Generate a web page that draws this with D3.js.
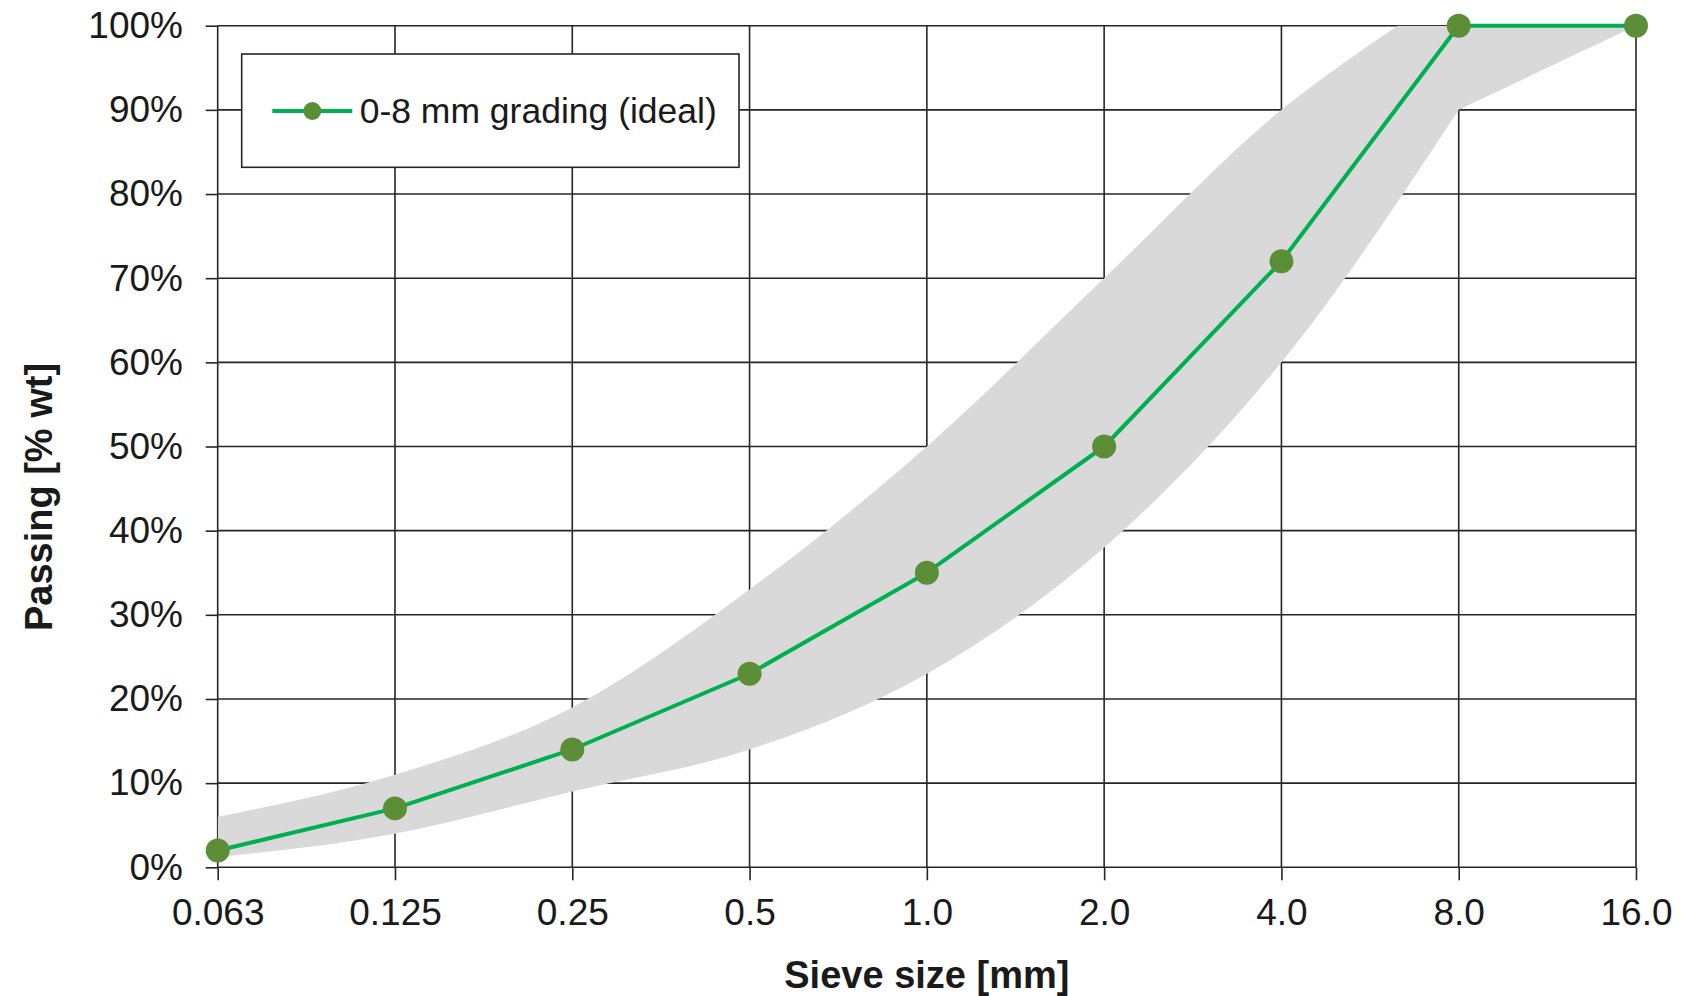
<!DOCTYPE html>
<html>
<head>
<meta charset="utf-8">
<script src="https://cdn.jsdelivr.net/npm/d3@7"></script>
<style>
  html, body { margin: 0; padding: 0; background: #fff; }
  svg { display: block; }
  text { font-family: "Liberation Sans", Arial, sans-serif; fill: #1a1a1a; }
</style>
</head>
<body>
<svg id="chart" width="1681" height="996"></svg>
<script>
// ---- data ----
const sieveLabels = ["0.063", "0.125", "0.25", "0.5", "1.0", "2.0", "4.0", "8.0", "16.0"];
const sieveSizes = [0.063, 0.125, 0.25, 0.5, 1, 2, 4, 8, 16];
const passingIdeal = [2, 7, 14, 23, 35, 50, 72, 100, 100];
const bandUpperSizes = [0.063, 0.125, 0.25, 0.5, 1, 2, 4, 6.3, 16];
const bandUpper = [6, 11, 19, 33, 50, 70, 90, 100, 100];
const bandLowerSizes = [0.063, 0.125, 0.25, 0.5, 1, 2, 4, 8, 16];
const bandLower = [1.2, 4, 9, 14, 23, 38, 60, 90, 100];
const yTicks = [0, 10, 20, 30, 40, 50, 60, 70, 80, 90, 100];
const seriesName = "0-8 mm grading (ideal)";
const xTitle = "Sieve size [mm]";
const yTitle = "Passing [% wt]";

// ---- layout ----
const L = 217.7, R = 1636, T = 25.7, B = 867.3;
const svg = d3.select("#chart");

const n = sieveSizes.length;
const x = d3.scaleLog()
  .domain(sieveSizes)
  .range(sieveSizes.map((d, i) => L + i * (R - L) / (n - 1)));
const y = d3.scaleLinear().domain([0, 100]).range([B, T]);

const gridColor = "#262626";

// gridlines
const grid = svg.append("g");
grid.selectAll("line.h").data(yTicks).join("line")
  .attr("x1", L).attr("x2", R)
  .attr("y1", d => y(d)).attr("y2", d => y(d))
  .attr("stroke", gridColor).attr("stroke-width", 1.6);
grid.selectAll("line.v").data(sieveSizes).join("line")
  .attr("y1", T).attr("y2", B)
  .attr("x1", d => x(d)).attr("x2", d => x(d))
  .attr("stroke", gridColor).attr("stroke-width", 1.6);

// band between the envelopes: smooth curve through the points, straight last segment
const upperPts = bandUpperSizes.map((s, i) => [s, bandUpper[i]]);
const lowerPts = bandLowerSizes.map((s, i) => [s, bandLower[i]]);
const smoothLine = d3.line().x(d => x(d[0])).y(d => y(d[1])).curve(d3.curveMonotoneX);

function regionBelow(pts, pad) {
  const last = pts[pts.length - 1], first = pts[0];
  return smoothLine(pts.slice(0, pts.length - 1)) +
    `L${x(last[0])},${y(last[1])}` +
    `L${x(last[0]) + pad},${y(last[1])}` +
    `L${x(last[0]) + pad},${B + pad * 10}` +
    `L${x(first[0]) - pad},${B + pad * 10}` +
    `L${x(first[0]) - pad},${y(first[1])}Z`;
}

const defs = svg.append("defs");
const mask = defs.append("mask").attr("id", "bandMask").attr("maskUnits", "userSpaceOnUse")
  .attr("x", 0).attr("y", 0).attr("width", 1681).attr("height", 996);
mask.append("rect").attr("x", 0).attr("y", 0).attr("width", 1681).attr("height", 996).attr("fill", "#fff");
mask.append("path").attr("d", regionBelow(lowerPts, 5)).attr("fill", "#000");

const clip = defs.append("clipPath").attr("id", "bandClip");
clip.append("path").attr("d", regionBelow(upperPts, 0));

svg.append("rect")
  .attr("x", L).attr("y", T).attr("width", R - L).attr("height", B - T)
  .attr("fill", "#d9d9d9")
  .attr("clip-path", "url(#bandClip)")
  .attr("mask", "url(#bandMask)");

// axes (ticks + labels)
const yAxis = d3.axisLeft(y).tickValues(yTicks).tickSize(12).tickPadding(22.7)
  .tickFormat(d => d + "%");
const gy = svg.append("g").attr("transform", `translate(${L},0)`).call(yAxis);
gy.select(".domain").remove();
gy.selectAll(".tick line").attr("stroke", gridColor).attr("stroke-width", 1.6);
gy.selectAll(".tick text").style("font-size", "37px").attr("fill", "#1a1a1a")
  .style("font-family", '"Liberation Sans", Arial, sans-serif');

const xAxis = d3.axisBottom(x).tickValues(sieveSizes).tickSize(13).tickPadding(18.4)
  .tickFormat((d, i) => sieveLabels[i]);
const gx = svg.append("g").attr("transform", `translate(0,${B})`).call(xAxis);
gx.select(".domain").remove();
gx.selectAll(".tick line").attr("stroke", gridColor).attr("stroke-width", 1.6);
gx.selectAll(".tick text").style("font-size", "37px").attr("fill", "#1a1a1a")
  .style("font-family", '"Liberation Sans", Arial, sans-serif');

// series line
const ideal = sieveSizes.map((s, i) => [s, passingIdeal[i]]);
svg.append("path")
  .attr("d", d3.line().x(d => x(d[0])).y(d => y(d[1]))(ideal))
  .attr("fill", "none").attr("stroke", "#00b050").attr("stroke-width", 4)
  .attr("stroke-linejoin", "round");
svg.selectAll("circle.pt").data(ideal).join("circle")
  .attr("cx", d => x(d[0])).attr("cy", d => y(d[1])).attr("r", 12)
  .attr("fill", "#5b8e37");

// legend
const lg = svg.append("g");
lg.append("rect").attr("x", 241.7).attr("y", 54).attr("width", 497.3).attr("height", 113.3)
  .attr("fill", "#fff").attr("stroke", gridColor).attr("stroke-width", 1.6);
lg.append("line").attr("x1", 272.3).attr("x2", 352.3).attr("y1", 111).attr("y2", 111)
  .attr("stroke", "#00b050").attr("stroke-width", 4);
lg.append("circle").attr("cx", 312.3).attr("cy", 111).attr("r", 9).attr("fill", "#5b8e37");
lg.append("text").attr("x", 359.7).attr("y", 111).attr("dy", "0.35em")
  .style("font-size", "35.5px").text(seriesName);

// axis titles
svg.append("text").attr("x", (L + R) / 2).attr("y", 988.3).attr("text-anchor", "middle")
  .style("font-size", "38px").style("font-weight", "bold").text(xTitle);
svg.append("text").attr("transform", `translate(51.5,497) rotate(-90)`).attr("text-anchor", "middle")
  .style("font-size", "38px").style("font-weight", "bold").text(yTitle);
</script>
</body>
</html>
